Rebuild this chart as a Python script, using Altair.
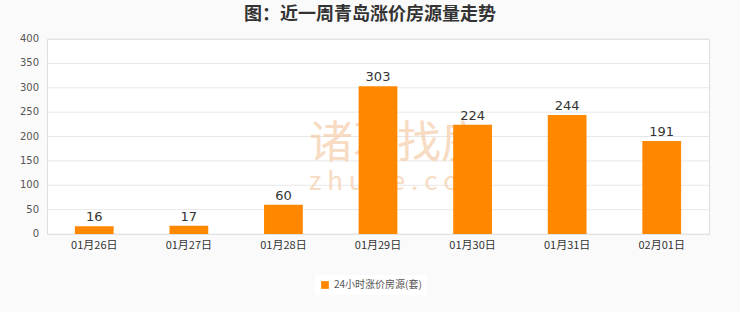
import altair as alt
import pandas as pd

dates = ["01月26日", "01月27日", "01月28日", "01月29日", "01月30日", "01月31日", "02月01日"]
values = [16, 17, 60, 303, 224, 244, 191]
y_ticks = [0, 50, 100, 150, 200, 250, 300, 350, 400]
series_name = "24小时涨价房源(套)"
title_text = "图：近一周青岛涨价房源量走势"

df = pd.DataFrame({"date": dates, "value": values, "series": [series_name] * len(dates)})
ticks_df = pd.DataFrame({"v": y_ticks})

FONT = "Noto Sans CJK SC"

xscale = alt.Scale(paddingInner=0.59, paddingOuter=0.295)
yscale = alt.Scale(domain=[0, 400], nice=False, zero=True)

xenc = alt.X("date:N", sort=dates, title=None, scale=xscale,
             axis=alt.Axis(labelAngle=0, labelFontSize=11, labelColor="#333333",
                           labelFont=FONT, ticks=False, domain=True, domainColor="#dddddd",
                           labelPadding=5, grid=False))
yenc = alt.Y("value:Q", title=None, scale=yscale, axis=None)

grid = alt.Chart(ticks_df).mark_rule(color="#e8e8e8", strokeWidth=1).encode(
    y=alt.Y("v:Q", scale=yscale, axis=None),
    x=alt.value(0), x2=alt.value(662))
ylabels = alt.Chart(ticks_df).mark_text(
    align="right", baseline="middle", fontSize=10, color="#555555", font="DejaVu Sans"
).encode(y=alt.Y("v:Q", scale=yscale, axis=None), x=alt.value(-8), text="v:Q")

wm1 = alt.Chart(pd.DataFrame({"t": ["诸葛找房"]})).mark_text(
    font=FONT, fontSize=44, color="#f5cfae", opacity=0.75, align="left", baseline="middle"
).encode(text="t:N", x=alt.value(262), y=alt.value(106))
wm2 = alt.Chart(pd.DataFrame({"t": ["z h u g e . c o m"]})).mark_text(
    font=FONT, fontSize=26, color="#f5cfae", opacity=0.75, align="left", baseline="middle"
).encode(text="t:N", x=alt.value(262), y=alt.value(143))

base = alt.Chart(df)
bars = base.mark_bar(color="#ff8800").encode(
    x=xenc, y=yenc,
    color=alt.Color("series:N", scale=alt.Scale(range=["#ff8800"]),
                    legend=alt.Legend(title=None, orient="none", legendX=268, legendY=236,
                                      symbolType="square", symbolSize=60, labelFontSize=10,
                                      labelColor="#555555", labelFont=FONT,
                                      fillColor="white", padding=5, symbolStrokeWidth=0)))
labels = base.mark_text(dy=-2, fontSize=13, color="#333333", font="DejaVu Sans", baseline="bottom").encode(
    x=alt.X("date:N", sort=dates, scale=xscale),
    y=alt.Y("value:Q", scale=yscale, axis=None),
    text="value:Q")

chart = alt.layer(grid, wm1, wm2, bars, labels, ylabels).properties(
    width=662, height=195,
    title=alt.TitleParams(title_text, fontSize=18, fontWeight="bold", color="#333333",
                          font=FONT, anchor="middle", dx=-8, offset=10),
    background="#fafafa",
    padding={"left": 47, "top": 39, "right": 31, "bottom": 78},
    autosize=alt.AutoSizeParams(type="none"),
).configure_view(fill="white", stroke="#dddddd")

chart.save("out.html", embed_options={"renderer": "svg", "actions": False})
